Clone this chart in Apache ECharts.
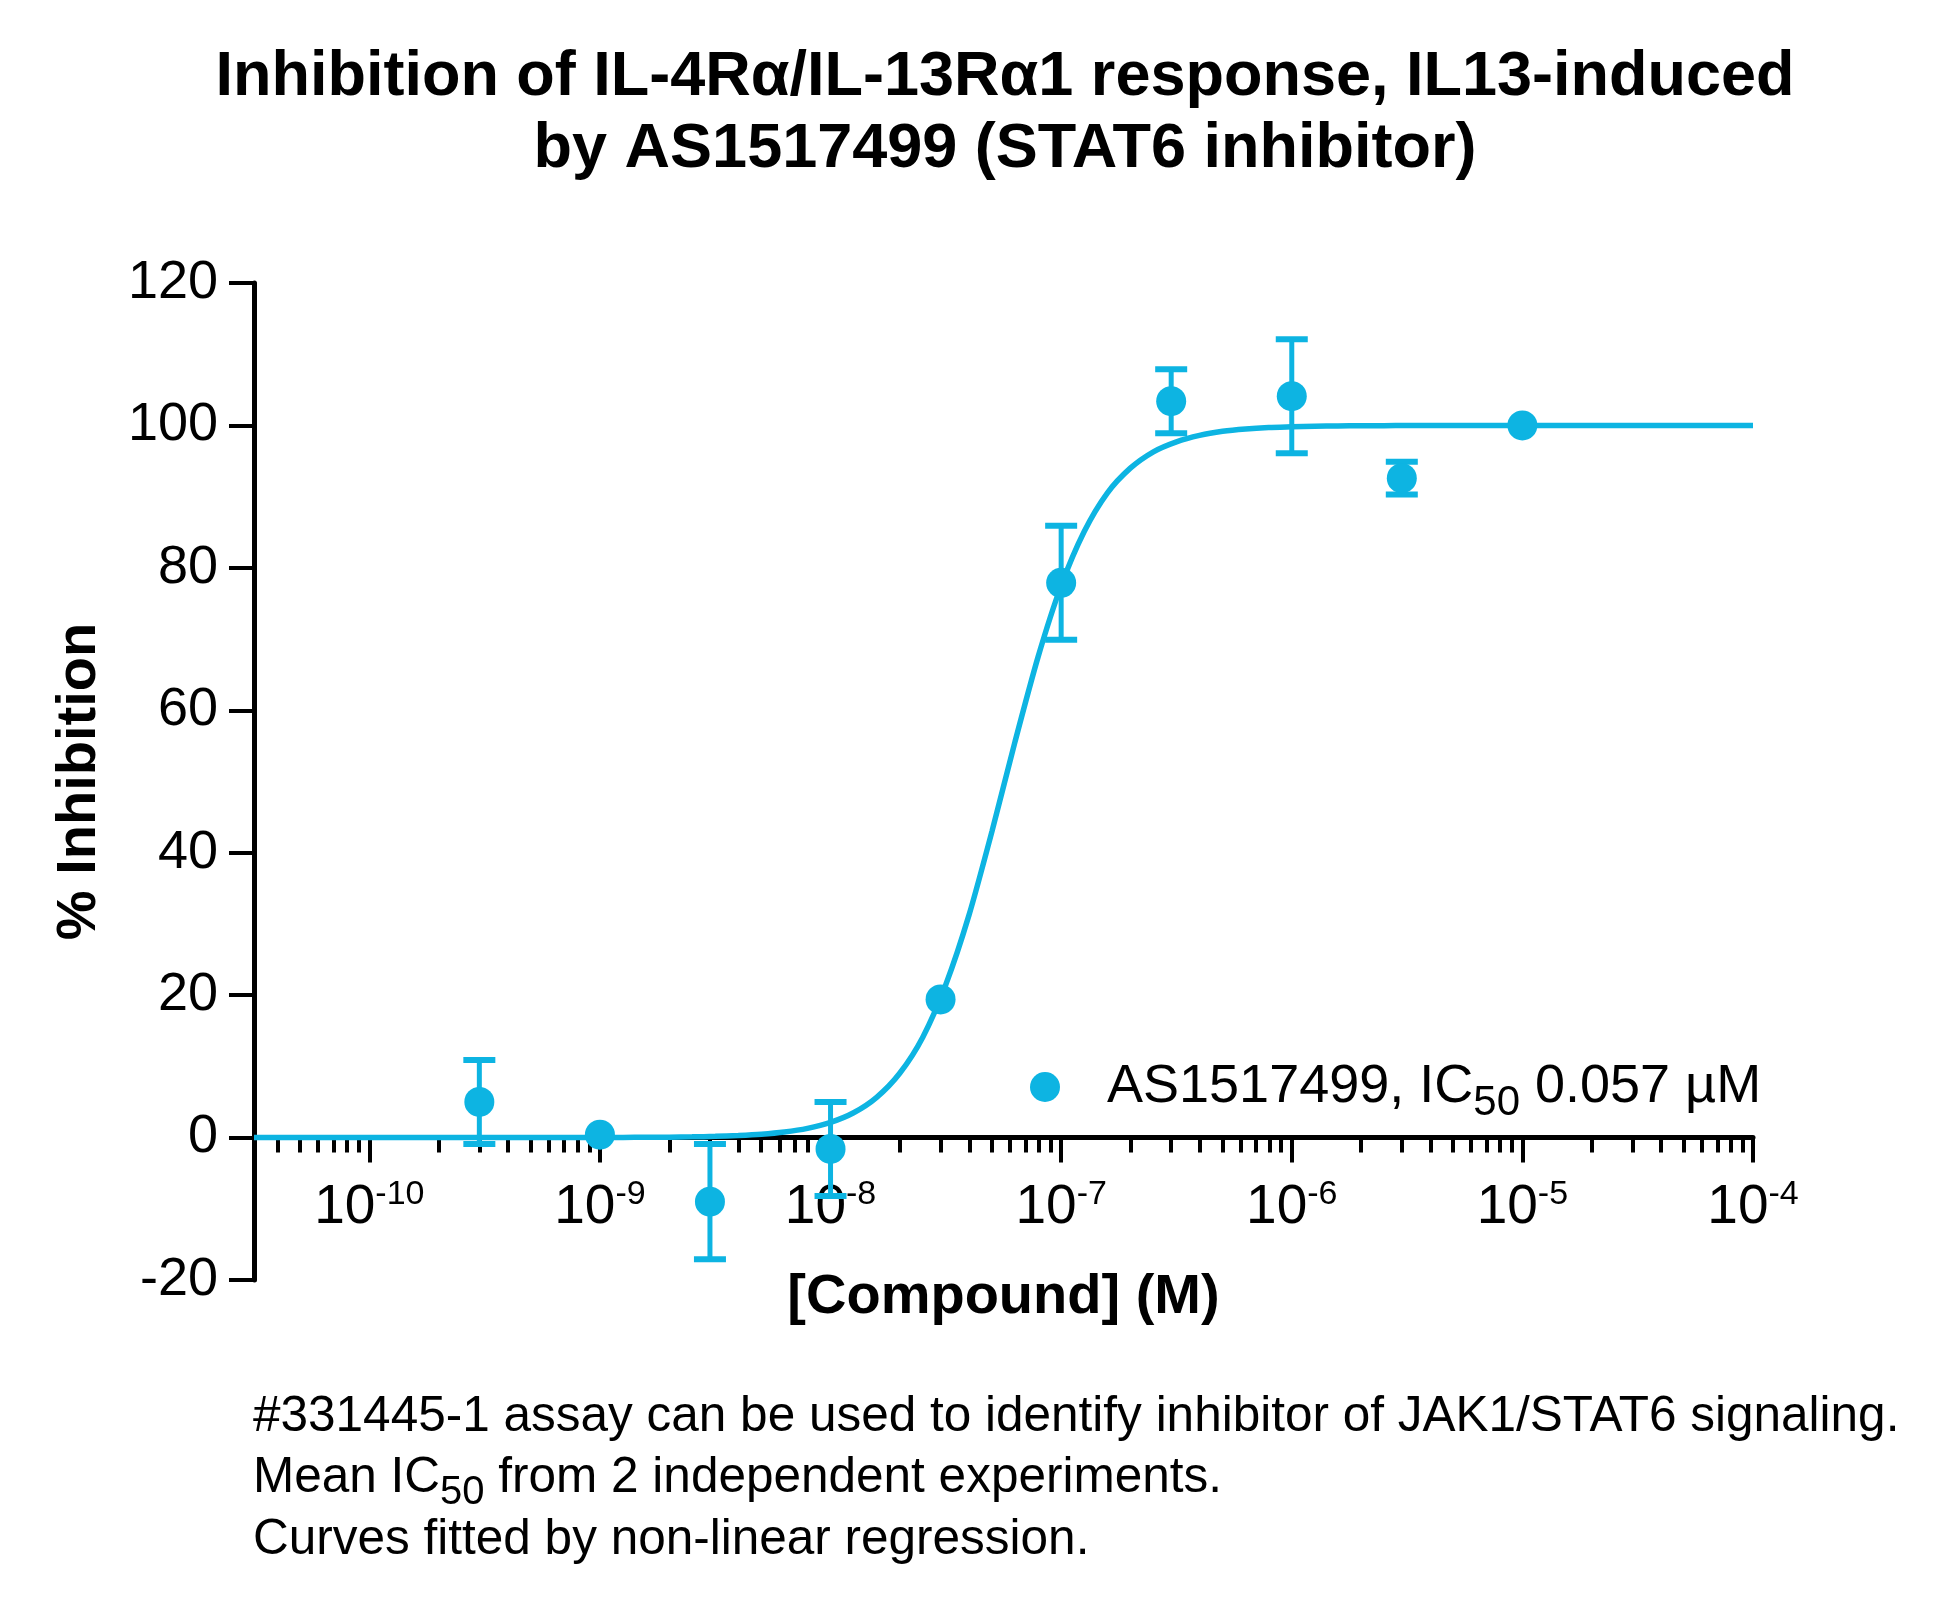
<!DOCTYPE html>
<html><head><meta charset="utf-8">
<script src="https://cdn.jsdelivr.net/npm/echarts@6/dist/echarts.min.js"></script>
<style>html,body{margin:0;padding:0;background:#fff}#c{width:1952px;height:1611px}</style>
</head><body><div id="c"></div>
<script>
// ---- data ----
const seriesName = 'AS1517499';
const concentrations = [3e-10, 1e-9, 3e-9, 1e-8, 3e-8, 1e-7, 3e-7, 1e-6, 3e-6, 1e-5]; // M
const inhibition   = [5.0, 0.4, -9.0, -1.6, 19.4, 77.9, 103.4, 104.1, 92.6, 100.0];   // %
const errorSD      = [5.9, 0, 8.1, 6.6, 0, 8.0, 4.5, 8.0, 2.3, 0];
// fitted curve (log10 [M], %)
const curveLogConc = [-10.5, -10.0, -9.5, -9.0, -8.9, -8.8, -8.7, -8.6, -8.5, -8.4, -8.3, -8.2, -8.1, -8.0, -7.9, -7.8, -7.7, -7.6, -7.5, -7.4, -7.3, -7.2, -7.1, -7.0, -6.9, -6.8, -6.7, -6.6, -6.5, -6.4, -6.3, -6.2, -6.1, -6.0, -5.9, -5.8, -5.7, -5.6, -5.5, -5.0, -4.5, -4.0];
const curveValues  = [0, 0, 0, 0.01, 0.02, 0.04, 0.06, 0.10, 0.17, 0.29, 0.47, 0.78, 1.29, 2.13, 3.48, 5.65, 9.03, 14.1, 21.5, 31.2, 43.0, 55.6, 67.5, 77.5, 85.1, 90.5, 94.0, 96.3, 97.7, 98.6, 99.17, 99.5, 99.7, 99.8, 99.89, 99.93, 99.96, 99.97, 99.98, 100, 100, 100];
const xDecades = [-10, -9, -8, -7, -6, -5, -4];
const yMin = -20, yMax = 120, yStep = 20;
const titleLines = ['Inhibition of IL-4Rα/IL-13Rα1 response, IL13-induced', 'by AS1517499 (STAT6 inhibitor)'];
const legendText = ['AS1517499, IC', '50', ' 0.057 µM'];
const noteLines = [
  ['#331445-1 assay can be used to identify inhibitor of JAK1/STAT6 signaling.'],
  ['Mean IC', '50', ' from 2 independent experiments.'],
  ['Curves fitted by non-linear regression.']
];

// ---- build ----
const COLOR = '#0DB4E2';
const FONT = '"Liberation Sans", Arial, Helvetica, sans-serif';
const xMin = -10.5, xMax = -4;
const GRID = {left: 254, right: 199, top: 283, bottom: 331};
const gridH = 1611 - GRID.top - GRID.bottom;
const zeroOffset = -gridH * (0 - yMin) / (yMax - yMin); // lift the x axis up to y = 0

const minorTicks = [];
for (let n = -11; n <= -5; n++) for (let k = 2; k <= 9; k++) {
  const v = n + Math.log10(k);
  if (v > xMin && v < xMax) minorTicks.push(v);
}
const pts = concentrations.map((c, i) => [Math.log10(c), inhibition[i], errorSD[i]]);
const curve = curveLogConc.map((x, i) => [x, curveValues[i]]);

const chart = echarts.init(document.getElementById('c'), null, {renderer: 'canvas'});
const noteStyle = {fontFamily: FONT, fontSize: 49.5, fontWeight: 'normal', lineHeight: 56, color: '#000'};
chart.setOption({
  backgroundColor: '#fff',
  animation: false,
  title: [
    {text: titleLines.join('\n'), left: 1005, top: 42, padding: 0, textAlign: 'center',
     textStyle: {fontFamily: FONT, fontWeight: 'bold', fontSize: 63, lineHeight: 72, color: '#000'}},
    {text: noteLines[0][0], left: 253, top: 1389, padding: 0, textStyle: noteStyle},
    {text: '{n|' + noteLines[1][0] + '}{s|' + noteLines[1][1] + '}{n|' + noteLines[1][2] + '}', left: 253, top: 1443, padding: 0,
     textStyle: {rich: {n: noteStyle, s: {fontFamily: FONT, fontSize: 40, fontWeight: 'normal', color: '#000', padding: [30, 0, 0, 0]}}}},
    {text: noteLines[2][0], left: 253, top: 1512, padding: 0, textStyle: noteStyle}
  ],
  legend: {
    data: [{name: seriesName, icon: 'circle'}],
    left: 1030, top: 1060, padding: 0,
    itemWidth: 30, itemHeight: 30,
    formatter: () => '{n|' + legendText[0] + '}{s|' + legendText[1] + '}{n|' + legendText[2] + '}',
    textStyle: {padding: [0, 0, 0, 42], rich: {n: {fontFamily: FONT, fontSize: 54, color: '#000'}, s: {fontFamily: FONT, fontSize: 42, color: '#000', padding: [32, 0, 0, 0]}}}
  },
  grid: Object.assign({containLabel: false}, GRID),
  xAxis: [{
    type: 'value', min: xMin, max: xMax, position: 'bottom', offset: zeroOffset,
    name: '[Compound] (M)', nameLocation: 'middle', nameGap: 132,
    nameTextStyle: {fontFamily: FONT, fontWeight: 'bold', fontSize: 56, color: '#000'},
    axisLine: {show: true, onZero: false, lineStyle: {color: '#000', width: 5}},
    axisTick: {show: true, inside: false, length: 25, customValues: xDecades, lineStyle: {color: '#000', width: 4}},
    axisLabel: {show: true, margin: 40, customValues: xDecades,
      formatter: v => '{b|10}{p|' + v + '}',
      rich: {b: {fontFamily: FONT, fontSize: 55, color: '#000'}, p: {fontFamily: FONT, fontSize: 34, color: '#000', padding: [0, 0, 26, 0]}}},
    splitLine: {show: false}
  }, {
    type: 'value', min: xMin, max: xMax, position: 'bottom', offset: zeroOffset,
    axisLine: {show: false, onZero: false},
    axisTick: {show: true, inside: false, length: 15, customValues: minorTicks, lineStyle: {color: '#000', width: 4}},
    axisLabel: {show: false},
    splitLine: {show: false}
  }],
  yAxis: {
    type: 'value', min: yMin, max: yMax, interval: yStep,
    name: '% Inhibition', nameLocation: 'middle', nameGap: 146, nameRotate: 90,
    nameTextStyle: {fontFamily: FONT, fontWeight: 'bold', fontSize: 56, color: '#000'},
    axisLine: {show: true, onZero: false, lineStyle: {color: '#000', width: 5}},
    axisTick: {show: true, inside: false, length: 25, lineStyle: {color: '#000', width: 4}},
    axisLabel: {margin: 36, fontFamily: FONT, fontSize: 54, color: '#000'},
    splitLine: {show: false}
  },
  series: [
    {type: 'line', name: 'fit', data: curve, showSymbol: false, smooth: 0.25,
     lineStyle: {color: COLOR, width: 5.5}, z: 3, silent: true},
    {type: 'custom', name: 'err', data: pts, z: 4, silent: true,
     renderItem: (params, api) => {
       const x = api.value(0), y = api.value(1), e = api.value(2);
       if (!e) return null;
       const t = api.coord([x, y + e]), b = api.coord([x, y - e]);
       const h = 16;
       return {type: 'group', children: [
         {type: 'line', shape: {x1: t[0], y1: t[1], x2: b[0], y2: b[1]}, style: {stroke: COLOR, lineWidth: 5}},
         {type: 'line', shape: {x1: t[0] - h, y1: t[1], x2: t[0] + h, y2: t[1]}, style: {stroke: COLOR, lineWidth: 6}},
         {type: 'line', shape: {x1: b[0] - h, y1: b[1], x2: b[0] + h, y2: b[1]}, style: {stroke: COLOR, lineWidth: 6}}
       ]};
     }},
    {type: 'scatter', name: seriesName, data: pts.map(p => [p[0], p[1]]), symbol: 'circle', symbolSize: 30,
     itemStyle: {color: COLOR, opacity: 1}, z: 5}
  ]
});
</script>
</body></html>
